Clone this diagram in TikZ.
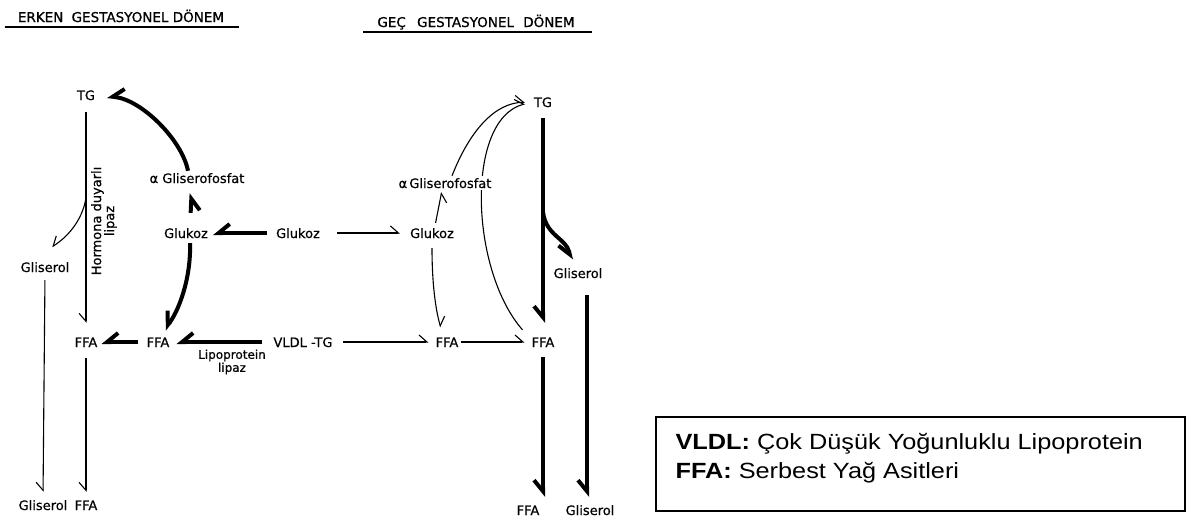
\documentclass[tikz,border=0pt]{standalone}
\usepackage{fontspec}
\setmainfont{DejaVu Sans}[FakeBold=0.6]
\newfontfamily\titlefont{DejaVu Sans}[FakeBold=0.8]
\newfontfamily\legendfont{Liberation Sans}[FakeStretch=1.15]
\usetikzlibrary{arrows.meta, positioning, calc, backgrounds}

\begin{document}
\begin{tikzpicture}[
    x=1pt, y=-1pt,
    lbl/.style={inner sep=2pt, text height=10pt, text depth=0pt, font=\fontsize{13}{15}\selectfont},
    smalllbl/.style={inner sep=1pt, align=center, font=\fontsize{12}{13}\selectfont},
    titlelbl/.style={inner sep=2pt, text height=10pt, text depth=0pt, font=\titlefont\fontsize{13.5}{15}\selectfont},
    legendtxt/.style={inner sep=0pt, align=left, font=\legendfont\fontsize{22}{29}\selectfont},
    thinarrow/.style={-{Straight Barb[harpoon, swap, length=8pt, width=14pt]}, line width=1.1pt},
    thinarrowr/.style={-{Straight Barb[harpoon, length=8pt, width=14pt]}, line width=1.1pt},
    thickarrow/.style={-{Straight Barb[harpoon, swap, length=11pt, width=18pt]}, line width=4pt}
]
\useasboundingbox (0,0) rectangle (1186,520);

% titles
\node[titlelbl] (ttlL) at (121,17) {ERKEN\hspace{4pt} GESTASYONEL DÖNEM};
\node[titlelbl] (ttlR) at (476,22) {GEÇ\hspace{7pt} GESTASYONEL\hspace{5pt} DÖNEM};
\draw[line width=2.5pt] ($(ttlL.south west)+(-11,3)$) -- ($(ttlL.south east)+(13,3)$);
\draw[line width=2.5pt] ($(ttlR.south west)+(-12,3)$) -- ($(ttlR.south east)+(15,3)$);

% early period
\node[lbl] (tgL) at (86,95) {TG};
\node[lbl] (gpL) at (197,178) {α Gliserofosfat};
\node[lbl] (gluL) at (186,233) {Glukoz};
\node[lbl] (gluO) at (298,233) {Glukoz};
\node[lbl] (glsL) at (45,267) {Gliserol};
\node[lbl] (ffaL) at (86,342) {FFA};
\node[lbl] (ffaM) at (158,342) {FFA};
\node[lbl] (vldl) at (303,342) {VLDL -TG};
\node[lbl] (glsLb) at (43,505) {Gliserol};
\node[lbl] (ffaLb) at (86,505) {FFA};
\node[smalllbl] (lpl) at (232,362) {Lipoprotein\\lipaz};
\node[smalllbl, rotate=90, font=\fontsize{13}{13}\selectfont] (hsl) at (104,221) {Hormona duyarlı\\lipaz};
\coordinate (brL) at (86,198);

\draw[thinarrow, shorten <=10pt, shorten >=12pt] (tgL.south) -- (ffaL.north);
\draw[thinarrow] (brL) .. controls (82,222) and (66,238) .. ($(glsL.north)+(7,-13)$);
\draw[thinarrow, shorten <=6pt, shorten >=6pt] (glsL.south) -- (glsLb.north);
\draw[thinarrow, shorten <=9pt, shorten >=6pt] (ffaL.south) -- (ffaLb.north);
\draw[thickarrow, shorten <=7pt, shorten >=3pt] (gluO.west) -- (gluL.east);
\draw[thickarrow, shorten <=13pt, shorten >=8pt] ([xshift=4pt]gluL.north) -- ([xshift=-5pt]gpL.south);
\draw[thickarrow, shorten >=10pt] ([xshift=-9pt]gpL.north) .. controls (182,140) and (142,100) .. (tgL.east);
\draw[thickarrow, shorten <=3pt, shorten >=7pt] ([xshift=4pt]gluL.south) .. controls (191,280) and (178,312) .. ([xshift=2pt]ffaM.north);
\draw[thickarrow, shorten <=6pt, shorten >=2pt] (ffaM.west) -- (ffaL.east);
\draw[thickarrow, shorten <=9pt, shorten >=5pt] (vldl.west) -- (ffaM.east);

% late period
\node[lbl] (tgR) at (543,102) {TG};
\node[lbl, fill=white] (gpR) at (445,183) {α\,Gliserofosfat};
\node[lbl] (gluR) at (432,233) {Glukoz};
\node[lbl] (ffaR1) at (447,342) {FFA};
\node[lbl] (ffaR) at (543,342) {FFA};
\node[lbl] (glsR) at (578,273) {Gliserol};
\node[lbl] (ffaRb) at (528,510) {FFA};
\node[lbl] (glsRb) at (590,510) {Gliserol};
\coordinate (brR) at (543,212);

\draw[thinarrowr, shorten <=15pt, shorten >=8pt] (gluO.east) -- (gluR.west);
\draw[thinarrow, shorten <=3pt, shorten >=2pt] ([xshift=3pt]gluR.north) -- ([xshift=-3pt]gpR.south);
\draw[thinarrowr, shorten >=7pt] ([xshift=7pt]gpR.north) .. controls (470,130) and (495,103) .. (tgR.west);
\begin{pgfonlayer}{background}
\draw[thinarrowr, shorten >=7pt] ($(ffaR.north west)+(-7,-5)$) .. controls (470,270) and (465,120) .. (tgR.west);
\end{pgfonlayer}
\draw[thinarrowr, shorten <=8pt, shorten >=8pt] (gluR.south) .. controls (432,290) and (437,315) .. ([xshift=-4pt]ffaR1.north);
\draw[thinarrowr, shorten <=8pt, shorten >=5pt] (vldl.east) -- (ffaR1.west);
\draw[thinarrowr, shorten >=5pt] (ffaR1.east) -- (ffaR.west);
\draw[thickarrow, shorten <=9pt, shorten >=12pt] (tgR.south) -- (ffaR.north);
\draw[thickarrow] (brR) .. controls (546,236) and (566,238) .. ($(glsR.north)+(-7,-6)$);
\draw[thickarrow, shorten <=15pt, shorten >=6pt] ([xshift=9pt]glsR.south) -- ([xshift=9pt]glsR.south |- glsRb.north);
\draw[thickarrow, shorten <=8pt, shorten >=6pt] (ffaR.south) -- (ffaR.south |- ffaRb.north);

% legend
\node[draw, line width=1.3pt, minimum width=529pt, minimum height=94pt, inner sep=0pt] (legend) at (920.5,464) {};
\node[legendtxt, anchor=west] (legendtext) at ($(legend.west)+(20,-6)$) {\textbf{VLDL:} Çok Düşük Yoğunluklu Lipoprotein\\\textbf{FFA:} Serbest Yağ Asitleri};

\end{tikzpicture}
\end{document}
